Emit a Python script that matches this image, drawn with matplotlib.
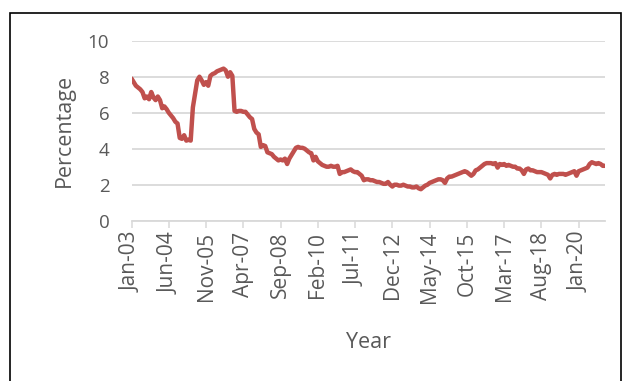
import numpy as np
import pandas as pd
import matplotlib
matplotlib.use("Agg")
import matplotlib.pyplot as plt
from matplotlib.patches import Rectangle

# monthly percentage, Jan 2003 .. Jan 2021
rate_2003 = [7.9, 7.7, 7.5, 7.4, 7.3, 7.15, 6.8, 6.9, 6.75, 7.15, 6.85, 6.7]
rate_2004 = [6.9, 6.7, 6.25, 6.35, 6.2, 6.0, 5.85, 5.7, 5.5, 5.4, 4.6, 4.55]
rate_2005 = [4.75, 4.45, 4.5, 4.45, 6.3, 7.05, 7.8, 8.0, 7.8, 7.55, 7.7, 7.5]
rate_2006 = [8.05, 8.15, 8.2, 8.3, 8.35, 8.4, 8.45, 8.35, 8.0, 8.25, 8.05, 6.1]
rate_2007 = [6.05, 6.1, 6.1, 6.05, 6.05, 5.9, 5.75, 5.65, 5.1, 4.9, 4.8, 4.1]
rate_2008 = [4.2, 4.15, 3.8, 3.75, 3.7, 3.55, 3.45, 3.35, 3.4, 3.35, 3.45, 3.15]
rate_2009 = [3.45, 3.65, 3.85, 4.05, 4.1, 4.05, 4.05, 4.0, 3.9, 3.8, 3.75, 3.35]
rate_2010 = [3.55, 3.3, 3.2, 3.1, 3.05, 3.0, 3.0, 3.05, 3.0, 3.0, 3.05, 2.6]
rate_2011 = [2.7, 2.7, 2.75, 2.8, 2.85, 2.75, 2.7, 2.7, 2.6, 2.5, 2.25, 2.3]
rate_2012 = [2.3, 2.25, 2.25, 2.2, 2.15, 2.15, 2.1, 2.05, 2.05, 2.15, 2.0, 1.9]
rate_2013 = [2.0, 2.0, 1.95, 1.95, 2.0, 1.95, 1.9, 1.9, 1.85, 1.85, 1.9, 1.8]
rate_2014 = [1.75, 1.85, 1.95, 2.0, 2.1, 2.15, 2.2, 2.25, 2.3, 2.3, 2.25, 2.1]
rate_2015 = [2.35, 2.45, 2.45, 2.5, 2.55, 2.6, 2.65, 2.7, 2.75, 2.7, 2.6, 2.5]
rate_2016 = [2.6, 2.8, 2.85, 2.95, 3.05, 3.15, 3.2, 3.2, 3.2, 3.15, 3.2, 2.95]
rate_2017 = [3.15, 3.1, 3.15, 3.05, 3.1, 3.05, 3.0, 3.0, 2.9, 2.9, 2.8, 2.6]
rate_2018 = [2.85, 2.9, 2.8, 2.8, 2.75, 2.7, 2.7, 2.7, 2.65, 2.6, 2.55, 2.35]
rate_2019 = [2.55, 2.6, 2.55, 2.6, 2.6, 2.6, 2.55, 2.6, 2.65, 2.7, 2.75, 2.5]
rate_2020 = [2.75, 2.8, 2.85, 2.9, 2.95, 3.15, 3.25, 3.2, 3.15, 3.2, 3.15, 3.05]
rate_2021 = [3.05]

rates = (rate_2003 + rate_2004 + rate_2005 + rate_2006 + rate_2007 + rate_2008
         + rate_2009 + rate_2010 + rate_2011 + rate_2012 + rate_2013 + rate_2014
         + rate_2015 + rate_2016 + rate_2017 + rate_2018 + rate_2019 + rate_2020
         + rate_2021)
months = pd.date_range("2003-01-01", periods=len(rates), freq="MS")
month_labels = [m.strftime("%b-%y") for m in months]
tick_step = 17

grey = "#595959"
plt.rcParams["font.family"] = ["Open Sans", "DejaVu Sans"]

fig = plt.figure(figsize=(6.25, 3.81), dpi=100)
ax = fig.add_axes([0.2104, 0.4207, 0.7576, 0.4724])

x = np.arange(len(rates))
ax.plot(x, rates, color="#C0504D", lw=3.2, solid_joinstyle="round",
        solid_capstyle="round", zorder=3)

ax.set_xlim(0, len(rates) - 1)
ax.set_ylim(0, 10)
ax.set_yticks(range(0, 11, 2))
ticks = x[::tick_step]
ax.set_xticks(ticks)
ax.set_xticklabels([month_labels[i] for i in ticks], rotation=90)

ax.yaxis.grid(True, color="#d9d9d9", lw=1.3)
ax.set_axisbelow(True)
for side in ["top", "right", "left"]:
    ax.spines[side].set_visible(False)
ax.spines["bottom"].set_color("#d9d9d9")
ax.spines["bottom"].set_linewidth(1.3)
ax.tick_params(axis="y", length=0, labelsize=13.5, labelcolor=grey, pad=16)
ax.tick_params(axis="x", length=5, width=1.1, color="#d9d9d9",
               labelsize=15, labelcolor=grey, pad=3)

ax.set_ylabel("Percentage", fontsize=15.5, color=grey, labelpad=9)
ax.set_xlabel("Year", fontsize=15.5, color=grey, labelpad=21)

# outer frame around the chart
fig.patches.append(Rectangle((10 / 625, -0.05), 611 / 625, 1.05 - 13 / 381,
                             transform=fig.transFigure, fill=False,
                             edgecolor="black", lw=1.2))

fig.savefig("out.png", dpi=100)
